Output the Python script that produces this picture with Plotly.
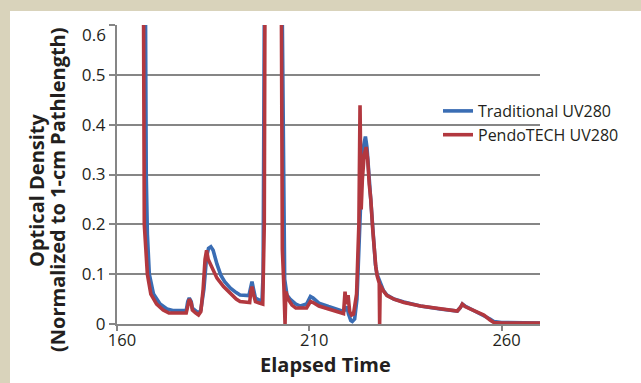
import plotly.graph_objects as go

# ---- data ----
trad_time = [166.9, 167.3, 167.6, 167.9, 168.4, 169.5, 171.2, 173.0, 174.5, 178.0,
             178.4, 178.8, 179.3, 179.6, 180.5, 181.2, 181.8, 182.6, 183.3, 183.8,
             184.4, 185.0, 186.0, 187.0, 188.0, 189.5, 191.0, 192.0, 194.3, 194.7,
             195.1, 195.5, 196.0, 197.0, 197.7, 198.0, 198.3, 198.6, 202.6, 203.0,
             203.3, 203.6, 204.2, 205.0, 206.5, 207.7, 209.3, 210.3, 211.0, 212.5,
             215.0, 217.0, 218.9, 219.4, 219.8, 220.2, 220.8, 221.2, 221.8, 222.4,
             222.9, 223.4, 223.8, 224.2, 224.6, 225.0, 225.5, 225.9, 226.4, 226.8,
             227.2, 227.6, 228.5, 229.3, 230.2, 232.0, 234.6, 238.9, 244.0, 248.5,
             249.3, 249.8, 250.5, 252.0, 254.0, 255.4, 257.0, 258.0, 260.0, 270.0]
trad_od = [1.5, 0.6, 0.3, 0.18, 0.10, 0.06, 0.04, 0.03, 0.027, 0.027,
           0.045, 0.052, 0.045, 0.032, 0.026, 0.022, 0.028, 0.07, 0.135, 0.152,
           0.155, 0.148, 0.12, 0.098, 0.085, 0.072, 0.063, 0.058, 0.057, 0.075,
           0.085, 0.07, 0.052, 0.048, 0.045, 0.1, 0.6, 1.5, 1.5, 0.6,
           0.2, 0.09, 0.058, 0.05, 0.04, 0.036, 0.04, 0.055, 0.052, 0.042,
           0.035, 0.03, 0.025, 0.03, 0.035, 0.02, 0.007, 0.005, 0.01, 0.05,
           0.15, 0.28, 0.33, 0.36, 0.376, 0.355, 0.30, 0.27, 0.21, 0.155,
           0.12, 0.10, 0.08, 0.067, 0.058, 0.05, 0.044, 0.036, 0.03, 0.026,
           0.033, 0.04, 0.036, 0.03, 0.024, 0.018, 0.01, 0.005, 0.003, 0.002]

pendo_time = [166.5, 166.8, 167.1, 167.5, 167.9, 168.8, 170.3, 172.0, 173.5, 178.0,
              178.4, 178.8, 179.3, 179.6, 180.5, 181.2, 181.8, 182.4, 182.9, 183.3,
              183.7, 184.2, 185.0, 186.0, 187.7, 189.5, 191.0, 192.0, 194.5, 194.8,
              195.1, 195.5, 196.0, 197.0, 197.9, 198.3, 198.5, 198.8, 202.3, 202.7,
              203.0, 203.4, 203.7, 203.9, 204.5, 205.5, 206.5, 209.3, 210.3, 211.0,
              212.5, 215.0, 217.0, 218.9, 219.3, 219.6, 220.1, 220.5, 221.0, 221.5,
              222.3, 222.9, 223.2, 223.5, 223.8, 224.3, 224.8, 225.2, 225.6, 226.0,
              226.5, 226.9, 227.3, 227.7, 228.2, 228.3, 228.45, 229.3, 230.2, 232.0,
              234.6, 238.9, 244.0, 248.5, 249.3, 249.8, 250.5, 252.0, 254.0, 255.4,
              257.0, 258.0, 260.0, 270.0]
pendo_od = [1.5, 0.6, 0.2, 0.15, 0.10, 0.06, 0.04, 0.028, 0.022, 0.022,
            0.04, 0.05, 0.042, 0.028, 0.022, 0.018, 0.025, 0.07, 0.13, 0.148,
            0.13, 0.122, 0.11, 0.092, 0.075, 0.06, 0.05, 0.045, 0.043, 0.065,
            0.075, 0.06, 0.045, 0.042, 0.04, 0.2, 0.6, 1.5, 1.5, 0.6,
            0.15, 0.075, 0.0, 0.065, 0.05, 0.038, 0.032, 0.032, 0.045, 0.043,
            0.036, 0.03, 0.026, 0.021, 0.065, 0.04, 0.058, 0.025, 0.018, 0.02,
            0.06, 0.2, 0.439, 0.23, 0.29, 0.34, 0.355, 0.33, 0.28, 0.25,
            0.19, 0.145, 0.115, 0.095, 0.082, 0.0, 0.078, 0.066, 0.057, 0.05,
            0.043, 0.036, 0.03, 0.026, 0.033, 0.04, 0.035, 0.03, 0.024, 0.018,
            0.008, 0.003, 0.002, 0.002]

x_ticks = [160, 210, 260]
y_ticks = [0, 0.1, 0.2, 0.3, 0.4, 0.5, 0.6]
y_tick_text = ["0", "0.1", "0.2", "0.3", "0.4", "0.5", ""]
series_names = ["Traditional UV280", "PendoTECH UV280"]

BLUE = "#3A6DB4"
RED = "#B2383F"
GRID = "#868686"
BEIGE = "#D9D3BB"
TXT = "#231F20"
FONT = "Open Sans"

fig = go.Figure()
fig.add_trace(go.Scatter(x=trad_time, y=trad_od, mode="lines", name=series_names[0],
                         line=dict(color=BLUE, width=3.6)))
fig.add_trace(go.Scatter(x=pendo_time, y=pendo_od, mode="lines", name=series_names[1],
                         line=dict(color=RED, width=3.6)))

L, T = 117, 25
W, H = 641, 383
PW, PH = 540 - L, 324 - T

def px_x(p):
    return (p - L) / PW

def px_y(p):
    return (324 - p) / PH

fig.update_layout(
    width=W, height=H,
    margin=dict(l=L, r=W - 540, t=T, b=H - 324, pad=0),
    paper_bgcolor=BEIGE, plot_bgcolor="white",
    font=dict(family=FONT, color=TXT, size=17),
    showlegend=True,
    legend=dict(x=px_x(438), y=px_y(94), xanchor="left", yanchor="top",
                bgcolor="rgba(0,0,0,0)", font=dict(size=16, color=TXT),
                itemwidth=30, tracegroupgap=0),
    xaxis=dict(range=[160, 270], tickvals=x_ticks, showgrid=False, zeroline=False,
               showline=True, linecolor=GRID, linewidth=2,
               ticks="outside", ticklen=5, tickwidth=2, tickcolor=GRID,
               ticklabelstandoff=-5, ticklabelshift=5,
               tickfont=dict(size=16.5, color=TXT)),
    yaxis=dict(range=[0, 0.6], tickvals=y_ticks, ticktext=y_tick_text,
               showgrid=True, gridcolor=GRID, gridwidth=2, zeroline=False,
               showline=True, linecolor=GRID, linewidth=2,
               ticks="outside", ticklen=6, tickwidth=2, tickcolor=GRID,
               tickfont=dict(size=17, color=TXT)),
    shapes=[dict(type="rect", xref="paper", yref="paper", layer="below",
                 x0=px_x(10), x1=px_x(W + 5), y0=px_y(H + 5), y1=px_y(11),
                 fillcolor="white", line=dict(width=0))],
    annotations=[
        dict(text="0.6", xref="paper", yref="paper", x=px_x(108), y=px_y(35),
             xanchor="right", yanchor="middle", showarrow=False,
             font=dict(size=17, color=TXT)),
        dict(text="<b>Elapsed Time</b>", xref="paper", yref="paper",
             x=px_x(325), y=px_y(364), xanchor="center", yanchor="middle",
             showarrow=False, font=dict(size=20, color=TXT)),
        dict(text="<b>Optical Density</b>", xref="paper", yref="paper",
             x=px_x(36), y=px_y(190), xanchor="center", yanchor="middle",
             textangle=-90, showarrow=False, font=dict(size=20, color=TXT)),
        dict(text="<b>(Normalized to 1-cm Pathlength)</b>", xref="paper", yref="paper",
             x=px_x(57), y=px_y(190), xanchor="center", yanchor="middle",
             textangle=-90, showarrow=False, font=dict(size=20, color=TXT)),
    ],
)

fig.write_html("out.html", config={"displayModeBar": False},
               post_script="document.body.style.margin='0';")
